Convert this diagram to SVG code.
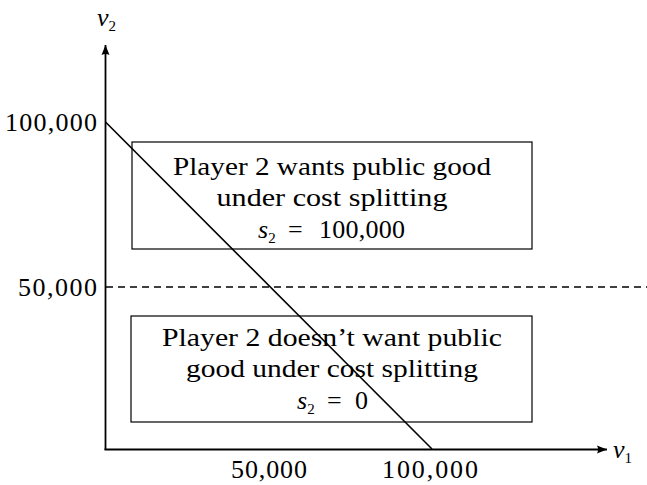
<svg xmlns="http://www.w3.org/2000/svg" width="647" height="485" viewBox="0 0 647 485" font-family="'Liberation Serif', serif">
<style>
text{font-family:'Liberation Serif',serif;font-size:26px;fill:#000}
.box{fill:none;stroke:#000;stroke-width:1.2}
.axis{stroke:#000;stroke-width:1.8;fill:none}
.it{font-style:italic}
.sub{font-size:15px}
</style>
<defs>
<marker id="arr" markerWidth="12" markerHeight="10" refX="10" refY="5" orient="auto" markerUnits="userSpaceOnUse">
<path d="M0,1 L10,5 L0,9 Q2,5 0,1 Z" fill="#000"/>
</marker>
</defs>
<rect width="647" height="485" fill="#fff"/>
<g id="connectors">
<line class="axis" x1="105.5" y1="450" x2="105.5" y2="45" marker-end="url(#arr)"/>
<line class="axis" x1="104.5" y1="449.5" x2="607" y2="449.5" marker-end="url(#arr)"/>
<line x1="105.5" y1="122" x2="432" y2="449" stroke="#000" stroke-width="1.6"/>
<line x1="106" y1="287" x2="647" y2="287" stroke="#000" stroke-width="1.5" stroke-dasharray="7,5"/>
</g>
<g id="box-wants">
<rect class="box" x="132" y="142" width="400" height="107"/>
<text x="332" y="175" text-anchor="middle" textLength="318" lengthAdjust="spacingAndGlyphs">Player 2 wants public good</text>
<text x="332" y="206" text-anchor="middle" textLength="231" lengthAdjust="spacingAndGlyphs">under cost splitting</text>
<text y="238"><tspan class="it" x="258">s</tspan><tspan class="sub" dy="5">2</tspan><tspan dy="-5" x="288">=</tspan><tspan x="319" textLength="86" lengthAdjust="spacing">100,000</tspan></text>
</g>
<g id="box-doesnt">
<rect class="box" x="131" y="316" width="401" height="106"/>
<text x="332" y="346" text-anchor="middle" textLength="340" lengthAdjust="spacingAndGlyphs">Player 2 doesn’t want public</text>
<text x="332" y="377" text-anchor="middle" textLength="292" lengthAdjust="spacingAndGlyphs">good under cost splitting</text>
<text y="409"><tspan class="it" x="297">s</tspan><tspan class="sub" dy="5">2</tspan><tspan dy="-5" x="327">=</tspan><tspan x="355">0</tspan></text>
</g>
<g id="labels">
<text x="97" y="131" text-anchor="end" textLength="92" lengthAdjust="spacing">100,000</text>
<text x="97" y="296" text-anchor="end" textLength="79" lengthAdjust="spacing">50,000</text>
<text x="269" y="478" text-anchor="middle" textLength="76" lengthAdjust="spacing">50,000</text>
<text x="430" y="478" text-anchor="middle" textLength="96" lengthAdjust="spacing">100,000</text>
<text x="97" y="26"><tspan class="it">v</tspan><tspan class="sub" dy="5">2</tspan></text>
<text x="613" y="458"><tspan class="it">v</tspan><tspan class="sub" dy="5">1</tspan></text>
</g>
</svg>
